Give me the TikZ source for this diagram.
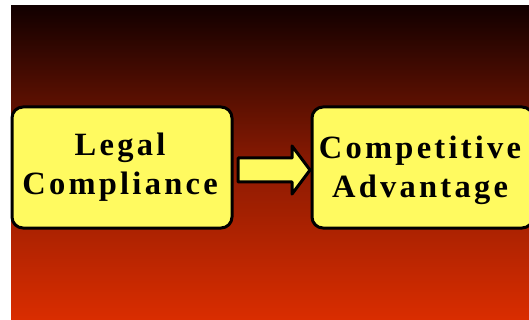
\documentclass[tikz,border=0pt]{standalone}
\usepackage{fontspec}
\setmainfont{Liberation Serif}
\newfontfamily\boxfont[LetterSpace=10]{Liberation Serif}
\definecolor{bgtop}{HTML}{120000}
\definecolor{bgmid}{HTML}{8A1A02}
\definecolor{bgbot}{HTML}{DA2D00}
\definecolor{boxfill}{HTML}{FFFA60}
\begin{document}
\begin{tikzpicture}[x=1pt,y=-1pt,
  boxstyle/.style={draw=black,line width=3pt,fill=boxfill,rounded corners=11pt},
  labelstyle/.style={align=center,font=\boxfont\bfseries\fontsize{32.5}{39}\selectfont,inner sep=0pt},
  arrowstyle/.style={draw=black,line width=3pt,fill=boxfill,line join=round}]
\useasboundingbox (0,0) rectangle (529,320);
\fill[white] (0,0) rectangle (529,320);
\shade[top color=bgtop,bottom color=bgbot,middle color=bgmid] (11,6) rectangle (529,320);
\draw[boxstyle] (12,107) rectangle (232,228);
\node[labelstyle] (left) at (120,167) {Legal\\Compliance};
\draw[boxstyle] (312,107) rectangle (533,228);
\node[labelstyle] (right) at (420,170.5) {Competitive\\Advantage};
\draw[arrowstyle] (238,158) -- (292,158) -- (292,146) -- (310,170) -- (292,194) -- (292,182) -- (238,182) -- cycle;
\end{tikzpicture}
\end{document}
